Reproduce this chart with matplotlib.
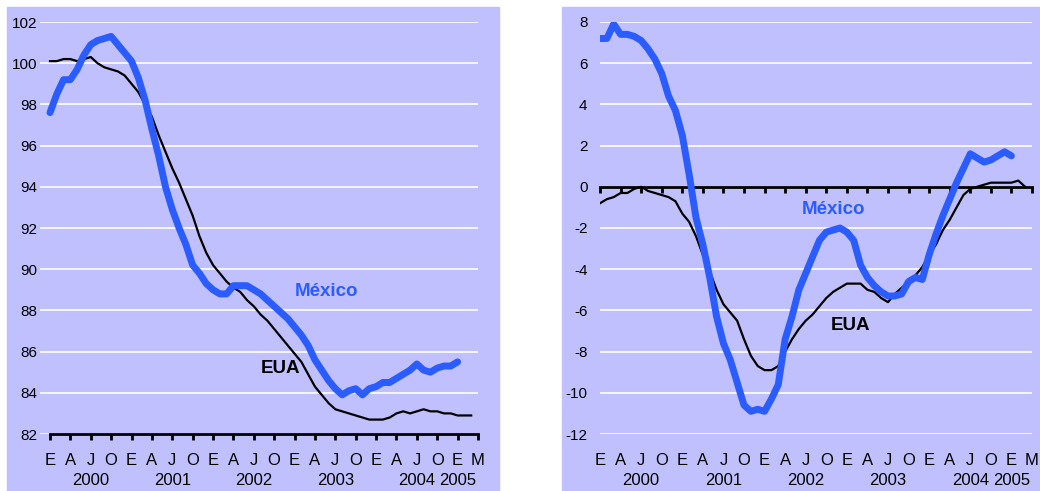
import matplotlib
matplotlib.use("Agg")
import matplotlib.pyplot as plt
from matplotlib.patches import Rectangle

plt.rcParams['font.family'] = ['Liberation Sans', 'DejaVu Sans']
plt.rcParams['axes.unicode_minus'] = False

# monthly values, Jan 2000 onwards
mexico_idx = [97.6, 98.5, 99.2, 99.2, 99.7, 100.4, 100.9, 101.1, 101.2, 101.3,
              100.9, 100.5, 100.1, 99.3, 98.2, 96.8, 95.5, 94.0, 92.9, 92.0,
              91.2, 90.2, 89.8, 89.3, 89.0, 88.8, 88.8, 89.2, 89.2, 89.2,
              89.0, 88.8, 88.5, 88.2, 87.9, 87.6, 87.2, 86.8, 86.3, 85.6,
              85.1, 84.6, 84.2, 83.9, 84.1, 84.2, 83.9, 84.2, 84.3, 84.5,
              84.5, 84.7, 84.9, 85.1, 85.4, 85.1, 85.0, 85.2, 85.3, 85.3, 85.5]
eua_idx = [100.1, 100.1, 100.2, 100.2, 100.1, 100.2, 100.3, 100.0, 99.8, 99.7,
           99.6, 99.4, 99.0, 98.6, 98.0, 97.4, 96.5, 95.7, 94.9, 94.2,
           93.4, 92.6, 91.6, 90.8, 90.2, 89.8, 89.4, 89.1, 88.9, 88.5,
           88.2, 87.8, 87.5, 87.1, 86.7, 86.3, 85.9, 85.5, 84.9, 84.3,
           83.9, 83.5, 83.2, 83.1, 83.0, 82.9, 82.8, 82.7, 82.7, 82.7,
           82.8, 83.0, 83.1, 83.0, 83.1, 83.2, 83.1, 83.1, 83.0, 83.0,
           82.9, 82.9, 82.9]

mexico_var = [7.2, 7.2, 7.9, 7.4, 7.4, 7.3, 7.1, 6.7, 6.2, 5.5,
              4.4, 3.7, 2.5, 0.6, -1.5, -2.8, -4.4, -6.3, -7.6, -8.4,
              -9.5, -10.6, -10.9, -10.8, -10.9, -10.3, -9.6, -7.4, -6.3, -5.0,
              -4.2, -3.4, -2.6, -2.2, -2.1, -2.0, -2.2, -2.6, -3.8, -4.4,
              -4.8, -5.1, -5.3, -5.3, -5.2, -4.6, -4.4, -4.5, -3.3, -2.3,
              -1.4, -0.6, 0.2, 0.9, 1.6, 1.4, 1.2, 1.3, 1.5, 1.7, 1.5]
eua_var = [-0.8, -0.6, -0.5, -0.3, -0.3, -0.1, 0.0, -0.2, -0.3, -0.4,
           -0.5, -0.7, -1.3, -1.7, -2.4, -3.3, -4.1, -5.0, -5.7, -6.1,
           -6.5, -7.4, -8.2, -8.7, -8.9, -8.9, -8.7, -8.0, -7.4, -6.9,
           -6.5, -6.2, -5.8, -5.4, -5.1, -4.9, -4.7, -4.7, -4.7, -5.0,
           -5.1, -5.4, -5.6, -5.2, -4.9, -4.6, -4.3, -3.9, -3.3, -2.8,
           -2.1, -1.6, -1.0, -0.4, -0.1, 0.0, 0.1, 0.2, 0.2, 0.2,
           0.2, 0.3, 0.0]

# quarterly tick labels (E=enero ... M=marzo)
month_labels = ['E', 'A', 'J', 'O'] * 5 + ['E', 'M']
tick_pos = [3 * i for i in range(len(month_labels))]
# year labels sit under the J of each year, 2005 under its E
year_labels = ['2000', '2001', '2002', '2003', '2004', '2005']
year_pos = [6, 18, 30, 42, 54, 60]

BG = '#C0C0FF'
BLUE = '#2B5CFF'

fig = plt.figure(figsize=(10.4, 4.91), dpi=100)
fig.patch.set_facecolor('white')
fig.patches.append(Rectangle((7 / 1040, 0), 492 / 1040, 484 / 491,
                             transform=fig.transFigure, color=BG, zorder=-10))
fig.patches.append(Rectangle((562 / 1040, 0), 478 / 1040, 484 / 491,
                             transform=fig.transFigure, color=BG, zorder=-10))

ax1 = fig.add_axes([40 / 1040, 1 - 434 / 491, 438 / 1040, 412 / 491])
ax2 = fig.add_axes([600 / 1040, 1 - 434 / 491, 432 / 1040, 412 / 491])


def style(ax, ypad):
    ax.set_facecolor('none')
    for s in ['top', 'right', 'left']:
        ax.spines[s].set_visible(False)
    ax.yaxis.grid(True, color='white', lw=1.2)
    ax.set_axisbelow(True)
    ax.tick_params(axis='y', length=0, labelsize=11, pad=ypad)


def add_labels(ax, month_pad):
    sec = ax.secondary_xaxis(0)
    sec.spines['bottom'].set_visible(False)
    sec.set_xticks(tick_pos)
    sec.set_xticklabels(month_labels, fontsize=12)
    sec.tick_params(axis='x', length=0, pad=month_pad)
    yrs = ax.secondary_xaxis(0)
    yrs.spines['bottom'].set_visible(False)
    yrs.set_xticks(year_pos)
    yrs.set_xticklabels(year_labels, fontsize=12)
    yrs.tick_params(axis='x', length=0, pad=28)


# left panel
ax1.plot(range(len(eua_idx)), eua_idx, color='black', lw=1.6, zorder=3)
ax1.plot(range(len(mexico_idx)), mexico_idx, color=BLUE, lw=5, zorder=4,
         solid_capstyle='round')
ax1.set_ylim(82, 102)
ax1.set_yticks(range(82, 103, 2))
ax1.set_xlim(-1.47, 63)
style(ax1, 2)
ax1.spines['bottom'].set_bounds(0, 63)
ax1.spines['bottom'].set_linewidth(2)
ax1.set_xticks(tick_pos)
ax1.tick_params(axis='x', length=4, width=2, direction='out', labelbottom=False)
add_labels(ax1, 14)
ax1.text(40.7, 88.9, 'México', color=BLUE, fontsize=13.5, fontweight='bold',
         ha='center', va='center')
ax1.text(34, 85.2, 'EUA', color='black', fontsize=13.5, fontweight='bold',
         ha='center', va='center')

# right panel
ax2.plot(range(len(eua_var)), eua_var, color='black', lw=1.6, zorder=3)
ax2.plot(range(len(mexico_var)), mexico_var, color=BLUE, lw=5, zorder=4,
         solid_capstyle='round')
ax2.set_ylim(-12, 8)
ax2.set_yticks(range(-12, 9, 2))
ax2.set_xlim(0, 63)
style(ax2, 9)
ax2.spines['bottom'].set_position(('data', 0))
ax2.spines['bottom'].set_linewidth(2)
ax2.set_xticks(tick_pos)
ax2.tick_params(axis='x', length=4, width=2, direction='out', labelbottom=False)
add_labels(ax2, 14)
ax2.text(34, -1.1, 'México', color=BLUE, fontsize=13.5, fontweight='bold',
         ha='center', va='center')
ax2.text(36.6, -6.75, 'EUA', color='black', fontsize=13.5, fontweight='bold',
         ha='center', va='center')

fig.savefig('out.png', dpi=100)
